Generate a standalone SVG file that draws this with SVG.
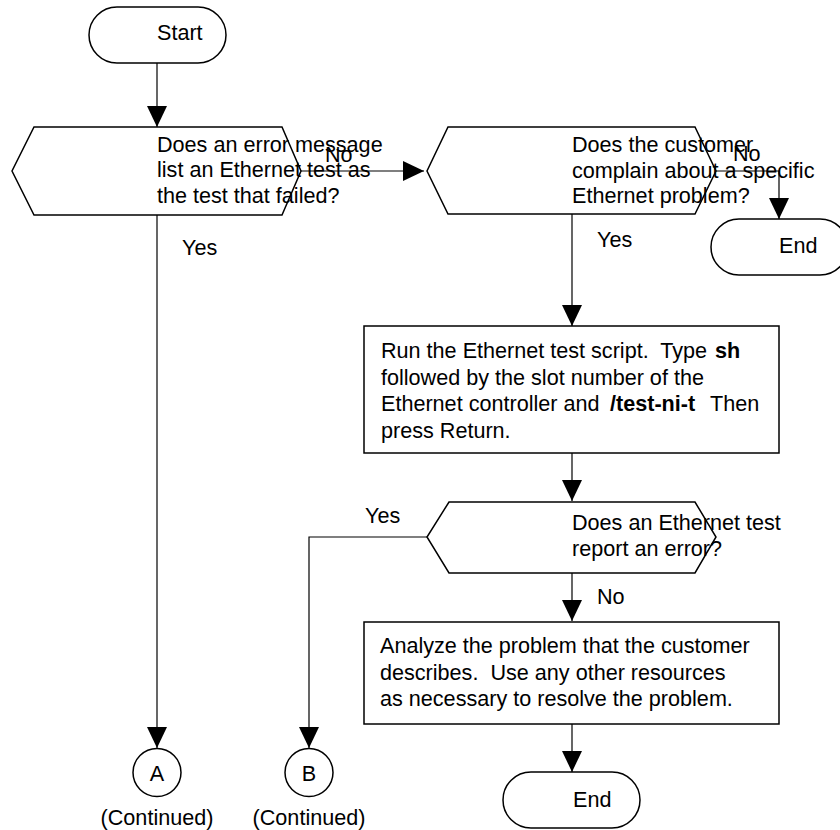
<svg xmlns="http://www.w3.org/2000/svg" width="840" height="830" viewBox="0 0 840 830">
<style>
.sh{fill:#fff;stroke:#000;stroke-width:1.5}
.t{font-family:"Liberation Sans",Arial,sans-serif;font-size:21.6px;fill:#000;white-space:pre}
.c{text-anchor:middle}
.b{font-weight:bold}
.ln{fill:none;stroke:#000;stroke-width:1.2}
</style>
<defs>
<marker id="ah" markerUnits="userSpaceOnUse" markerWidth="21" markerHeight="20" refX="21" refY="10" orient="auto">
<path d="M0,0 L21,10 L0,20 Z" fill="#000"/>
</marker>
</defs>
<rect width="840" height="830" fill="#fff"/>
<g id="start">
<rect class="sh" x="89" y="7" width="137" height="56" rx="28"/>
<text class="t" x="157" y="40">Start</text>
</g>
<g id="d1">
<polygon class="sh" points="34,127 282,127 301,171 282,215 34,215 12,171"/>
<text class="t" x="157" y="152">Does an error message</text>
<text class="t" x="157" y="177">list an Ethernet test as</text>
<text class="t" x="157" y="203">the test that failed?</text>
</g>
<g id="d2">
<polygon class="sh" points="448,127 695,127 716,171 695,214 448,214 427,171"/>
<text class="t" x="572" y="152">Does the customer</text>
<text class="t" x="572" y="178">complain about a specific</text>
<text class="t" x="572" y="203">Ethernet problem?</text>
</g>
<g id="end1">
<rect class="sh" x="711" y="219" width="137" height="56" rx="28"/>
<text class="t" x="779" y="253">End</text>
</g>
<g id="p1">
<rect class="sh" x="364" y="326" width="415" height="127"/>
<text class="t" x="381" y="358" xml:space="preserve">Run the Ethernet test script.  Type <tspan class="b" x="715">sh</tspan></text>
<text class="t" x="381" y="384.5">followed by the slot number of the</text>
<text class="t" x="381" y="411" xml:space="preserve">Ethernet controller and <tspan class="b" x="610">/test-ni-t</tspan><tspan x="710">Then</tspan></text>
<text class="t" x="381" y="437.5">press Return.</text>
</g>
<g id="d3">
<polygon class="sh" points="449,502 695,502 716,537 695,573 449,573 427,537"/>
<text class="t" x="572" y="530">Does an Ethernet test</text>
<text class="t" x="572" y="556">report an error?</text>
</g>
<g id="p2">
<rect class="sh" x="364" y="622" width="415" height="102"/>
<text class="t" x="380" y="653">Analyze the problem that the customer</text>
<text class="t" x="380" y="680" xml:space="preserve">describes.  Use any other resources</text>
<text class="t" x="380" y="706">as necessary to resolve the problem.</text>
</g>
<g id="end2">
<rect class="sh" x="503" y="772" width="137" height="56" rx="28"/>
<text class="t" x="573" y="807">End</text>
</g>
<g id="conA">
<circle class="sh" cx="157" cy="772.5" r="24"/>
<text class="t c" x="157" y="781">A</text>
<text class="t c" x="157" y="825">(Continued)</text>
</g>
<g id="conB">
<circle class="sh" cx="309" cy="772.5" r="24"/>
<text class="t c" x="309" y="781">B</text>
<text class="t c" x="309" y="825">(Continued)</text>
</g>
<g id="connectors">
<line class="ln" x1="157" y1="63" x2="157" y2="127" marker-end="url(#ah)"/>
<line class="ln" x1="301" y1="171" x2="424" y2="171" marker-end="url(#ah)"/>
<polyline class="ln" points="716,171 779,171 779,219" marker-end="url(#ah)"/>
<line class="ln" x1="157" y1="215" x2="157" y2="748" marker-end="url(#ah)"/>
<line class="ln" x1="572" y1="214" x2="572" y2="326" marker-end="url(#ah)"/>
<line class="ln" x1="572" y1="453" x2="572" y2="501" marker-end="url(#ah)"/>
<polyline class="ln" points="427,537 309,537 309,748" marker-end="url(#ah)"/>
<line class="ln" x1="572" y1="573" x2="572" y2="621" marker-end="url(#ah)"/>
<line class="ln" x1="572" y1="724" x2="572" y2="772" marker-end="url(#ah)"/>
<text class="t" x="325" y="162">No</text>
<text class="t" x="182" y="255">Yes</text>
<text class="t" x="733" y="161">No</text>
<text class="t" x="597" y="247">Yes</text>
<text class="t" x="365" y="523">Yes</text>
<text class="t" x="597" y="604">No</text>
</g>
</svg>
